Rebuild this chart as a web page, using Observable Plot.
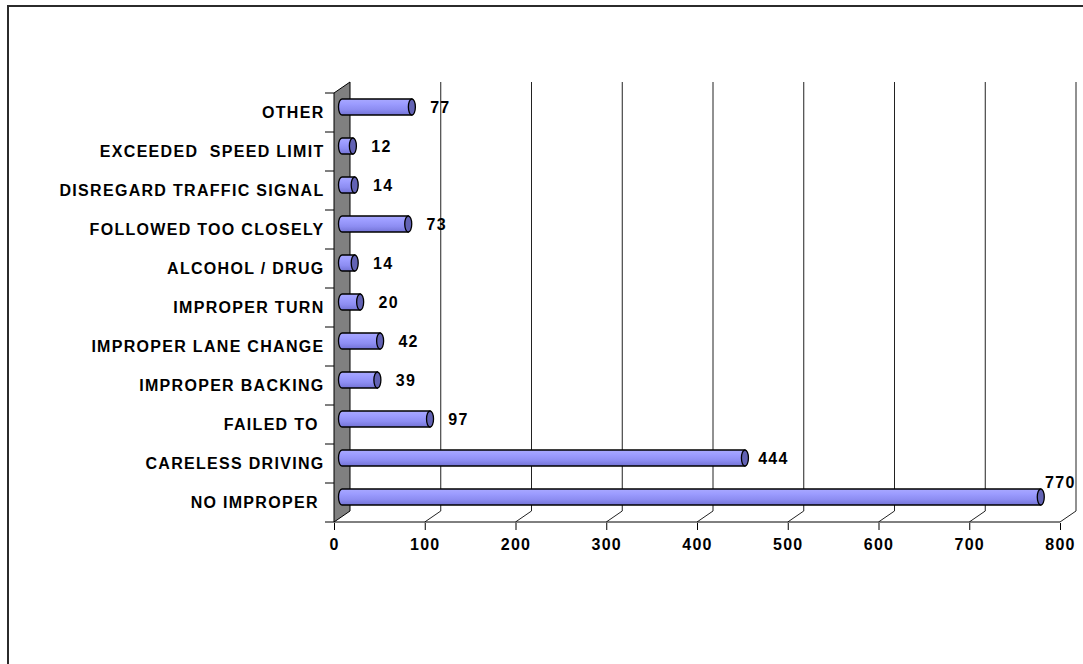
<!DOCTYPE html>
<html><head><meta charset="utf-8">
<script src="https://cdn.jsdelivr.net/npm/d3@7"></script>
<script src="https://cdn.jsdelivr.net/npm/@observablehq/plot@0.6"></script>
<style>
body{margin:0;background:#fff;overflow:hidden;}
#chart{position:absolute;left:0;top:0;}
#frame{position:absolute;left:7px;top:5px;right:0;bottom:0;border-top:2px solid #2b2b2b;border-left:2px solid #2b2b2b;pointer-events:none;}
#chart svg text{letter-spacing:1.3px;white-space:pre;font-weight:bold;}
</style></head><body>
<div id="chart"></div><div id="frame"></div>
<script>
const categories = ["OTHER","EXCEEDED  SPEED LIMIT","DISREGARD TRAFFIC SIGNAL","FOLLOWED TOO CLOSELY","ALCOHOL / DRUG","IMPROPER TURN","IMPROPER LANE CHANGE","IMPROPER BACKING","FAILED TO ","CARELESS DRIVING","NO IMPROPER "];
const values = [77,12,14,73,14,20,42,39,97,444,770];
const xTicks = [0,100,200,300,400,500,600,700,800];

const rows = categories.map((c, i) => ({category: c, value: values[i]}));

const DX = 16, DY = -11; // oblique depth of the 3D box

function scene(index, scales) {
  const x = scales.x, y = scales.y;
  const bw = (typeof y.bandwidth === "number" && y.bandwidth > 0) ? y.bandwidth : (y(categories[1]) - y(categories[0]));
  const g = d3.create("svg:g");
  const defs = g.append("defs");
  const grad = defs.append("linearGradient").attr("id", "cyl").attr("x1", 0).attr("y1", 0).attr("x2", 0).attr("y2", 1);
  [[0, "#a9a9ff"], [0.3, "#9c9cff"], [0.65, "#8d8df2"], [1, "#7373d6"]].forEach(([o, c]) =>
    grad.append("stop").attr("offset", o).attr("stop-color", c));
  const x0 = x(0), xMax = x(xTicks[xTicks.length - 1]);
  const yTop = y(categories[0]), yBot = y(categories[categories.length - 1]) + bw;
  // left wall
  g.append("polygon")
    .attr("points", [[x0, yTop], [x0 + DX, yTop + DY], [x0 + DX, yBot + DY], [x0, yBot]].map(p => p.join(",")).join(" "))
    .attr("fill", "#808080").attr("stroke", "#000").attr("stroke-width", 1);
  const line = (a, b, c, d, col = "#000", w = 1) => g.append("line").attr("x1", a).attr("y1", b).attr("x2", c).attr("y2", d)
    .attr("stroke", col).attr("stroke-width", w);
  // back gridlines and floor slants
  for (const v of xTicks.slice(1)) {
    line(x(v) + DX, yTop + DY, x(v) + DX, yBot + DY, "#222");
    line(x(v), yBot, x(v) + DX, yBot + DY, "#222");
  }
  // front floor edge
  line(x0 - 9, yBot, xMax, yBot);
  // category boundary ticks
  for (const c of categories) line(x0 - 9, y(c), x0, y(c));
  // cylinders
  const h = 8, rx = 3.5;
  rows.forEach(d => {
    const cy = y(d.category) + bw / 2 + DY / 2;
    const xs = x0 + DX / 2, xe = x(d.value) + DX / 2;
    g.append("path")
      .attr("d", `M${xs},${cy - h}L${xe},${cy - h}L${xe},${cy + h}L${xs},${cy + h}A${rx},${h} 0 0 1 ${xs},${cy - h}Z`)
      .attr("fill", "url(#cyl)").attr("stroke", "#000").attr("stroke-width", 1.3);
    g.append("ellipse").attr("cx", xe).attr("cy", cy).attr("rx", rx).attr("ry", h)
      .attr("fill", "#6262b4").attr("stroke", "#000").attr("stroke-width", 1.3);
  });
  return g.node();
}

const chart = Plot.plot({
  width: 1083,
  height: 664,
  marginLeft: 334,
  marginRight: 23,
  marginTop: 91,
  marginBottom: 141,
  style: {fontFamily: "'Liberation Sans', Arial, sans-serif", fontSize: "16px", fontWeight: "bold", color: "#000", background: "transparent"},
  x: {domain: [0, 800], label: null},
  y: {type: "band", domain: categories, padding: 0, label: null},
  marks: [
    scene,
    Plot.text(rows.filter(d => d.value < 700), {x: "value", y: "category", text: d => String(d.value), dx: 36, dy: DY / 2, fill: "#000", fontSize: 16, fontWeight: "bold"}),
    Plot.text(rows.filter(d => d.value >= 700), {x: "value", y: "category", text: d => String(d.value), dx: 27, dy: DY / 2 - 15, fill: "#000", fontSize: 16, fontWeight: "bold"}),
    Plot.axisX({ticks: xTicks, tickSize: 7, tickPadding: 8, label: null, fontSize: 16}),
    Plot.axisY({tickSize: 0, tickPadding: 10, label: null, fontSize: 16})
  ]
});
document.getElementById("chart").appendChild(chart);
</script>
</body></html>
